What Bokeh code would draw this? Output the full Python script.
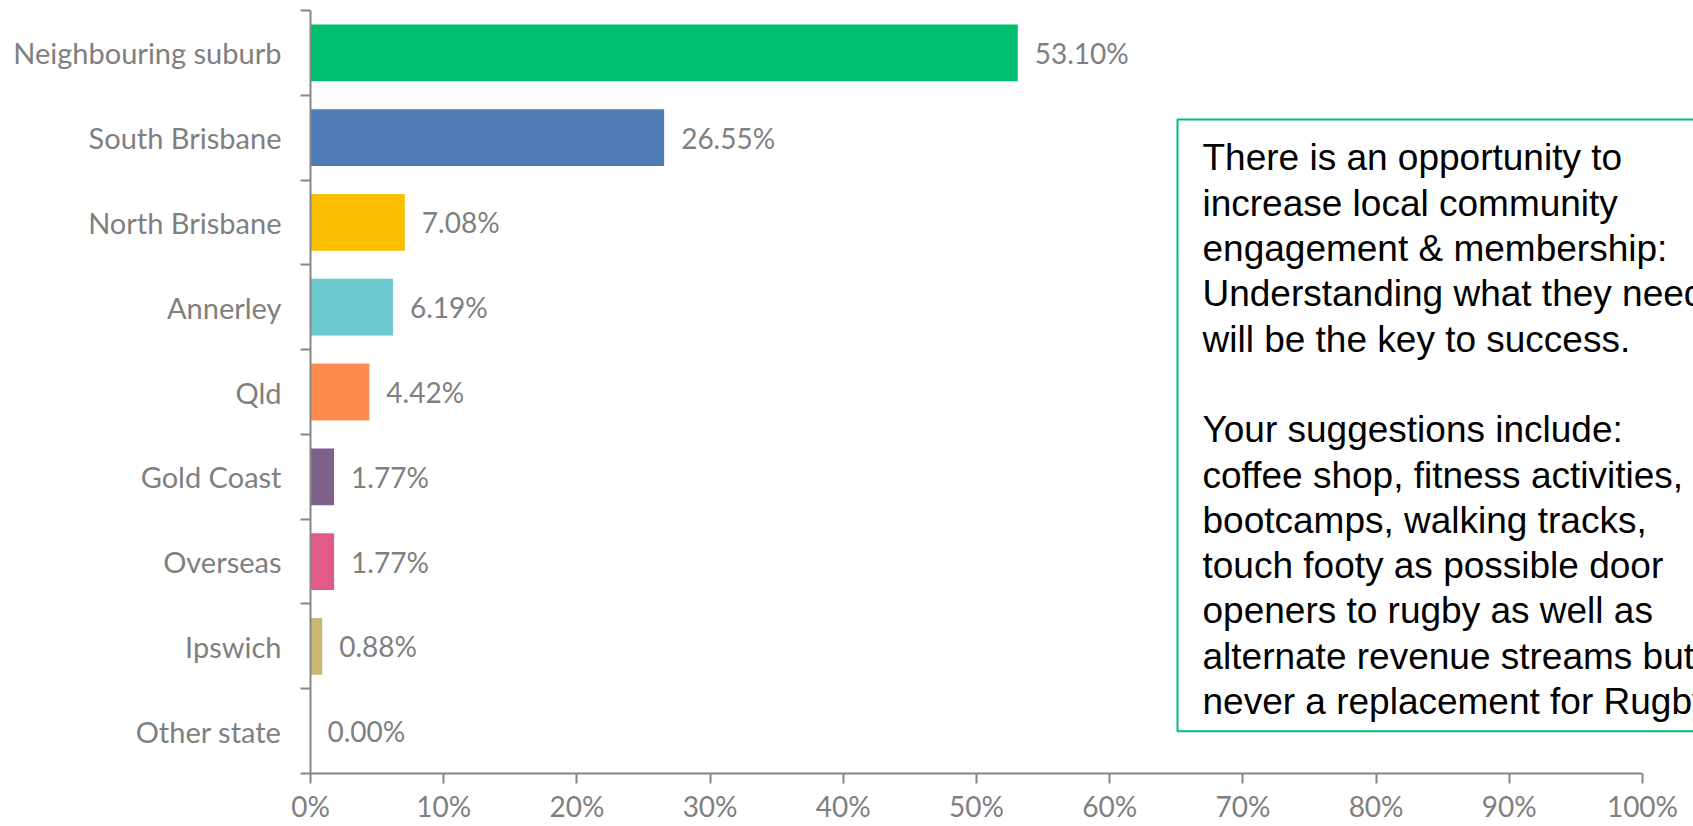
from bokeh.plotting import figure
from bokeh.models import Range1d, LinearAxis, FixedTicker, NumeralTickFormatter, ColumnDataSource
from bokeh.core.properties import value
from bokeh.embed import file_html
from bokeh.resources import INLINE

categories = ["Neighbouring suburb", "South Brisbane", "North Brisbane", "Annerley", "Qld",
              "Gold Coast", "Overseas", "Ipswich", "Other state"]
shares = [0.5310, 0.2655, 0.0708, 0.0619, 0.0442, 0.0177, 0.0177, 0.0088, 0.0]
colors = ["#00BF6F", "#507CB6", "#F9BE00", "#6BC8CD", "#FF8B4F", "#7F628B", "#E05C86", "#C9B775", "#A5A5A5"]
x_ticks = [0.0, 0.1, 0.2, 0.3, 0.4, 0.5, 0.6, 0.7, 0.8, 0.9, 1.0]

note = ("There is an opportunity to\n"
        "increase local community\n"
        "engagement & membership:\n"
        "Understanding what they need\n"
        "will be the key to success.\n"
        "\n"
        "Your suggestions include:\n"
        "coffee shop, fitness activities,\n"
        "bootcamps, walking tracks,\n"
        "touch footy as possible door\n"
        "openers to rugby as well as\n"
        "alternate revenue streams but\n"
        "never a replacement for Rugby.")

AXIS = "#868686"
TXT = "#7F7F7F"
FONT = "Lato"

n = len(categories)
ypos = [i + 0.5 for i in range(n)]
labels = [f"{v * 100:.2f}%" for v in shares]

src = ColumnDataSource(dict(cat=categories, y=ypos, v=shares, c=colors, lab=labels))

p = figure(width=1693, height=826, x_range=Range1d(0, 1.0383), y_range=Range1d(n, 0),
           output_backend="svg", toolbar_location=None,
           x_axis_location=None, y_axis_location=None,
           min_border_left=310, min_border_right=0, min_border_top=10, min_border_bottom=53)
p.outline_line_color = None
p.xgrid.visible = False
p.ygrid.visible = False
p.background_fill_color = "white"

# x axis
xaxis = LinearAxis(ticker=FixedTicker(ticks=x_ticks), formatter=NumeralTickFormatter(format="0%"),
                   bounds=(0, 1))
xaxis.axis_line_color = AXIS
xaxis.axis_line_width = 2
xaxis.major_tick_line_color = AXIS
xaxis.major_tick_line_width = 2
xaxis.major_tick_out = 10
xaxis.major_tick_in = 0
xaxis.minor_tick_line_color = None
xaxis.major_label_text_font = FONT
xaxis.major_label_text_font_size = "28px"
xaxis.major_label_text_color = TXT
xaxis.major_label_standoff = 5
p.add_layout(xaxis, "below")

# y axis: boundary ticks
ya = LinearAxis(ticker=FixedTicker(ticks=list(range(n + 1))))
ya.major_label_overrides = {i: "" for i in range(n + 1)}
ya.axis_line_color = AXIS
ya.axis_line_width = 2
ya.major_tick_line_color = AXIS
ya.major_tick_line_width = 2
ya.major_tick_out = 10
ya.major_tick_in = 0
ya.minor_tick_line_color = None
ya.major_label_standoff = 0
ya.major_label_text_font_size = "0px"
p.add_layout(ya, "left")

# y axis: category names
yb = LinearAxis(ticker=FixedTicker(ticks=ypos))
yb.major_label_overrides = {y: c for y, c in zip(ypos, categories)}
yb.axis_line_color = None
yb.major_tick_line_color = None
yb.major_tick_out = 0
yb.major_tick_in = 0
yb.minor_tick_line_color = None
yb.major_label_standoff = 19
yb.major_label_text_font = FONT
yb.major_label_text_font_size = "29px"
yb.major_label_text_color = TXT
p.add_layout(yb, "left")

p.hbar(y="y", left=0, right="v", height=0.67, fill_color="c", line_color=None, source=src)
p.text(x="v", y="y", text="lab", x_offset=17, text_baseline="middle", text_align="left",
       text_font=value(FONT), text_font_size="28px", text_color=TXT, source=src)

# annotation box
box_left, box_top, box_bottom = 0.6509, 1.285, 8.502
p.quad(left=[box_left], right=[1.3], top=[box_top], bottom=[box_bottom],
       fill_color=None, line_color="#00BF6F", line_width=2)
p.text(x=[box_left], y=[1.497], text=[note], x_offset=25, text_baseline="top", text_align="left",
       text_font=value("Liberation Sans"), text_font_size="37px", text_line_height=1.105,
       text_color="black")

open("out.html", "w").write(file_html(p, INLINE))
